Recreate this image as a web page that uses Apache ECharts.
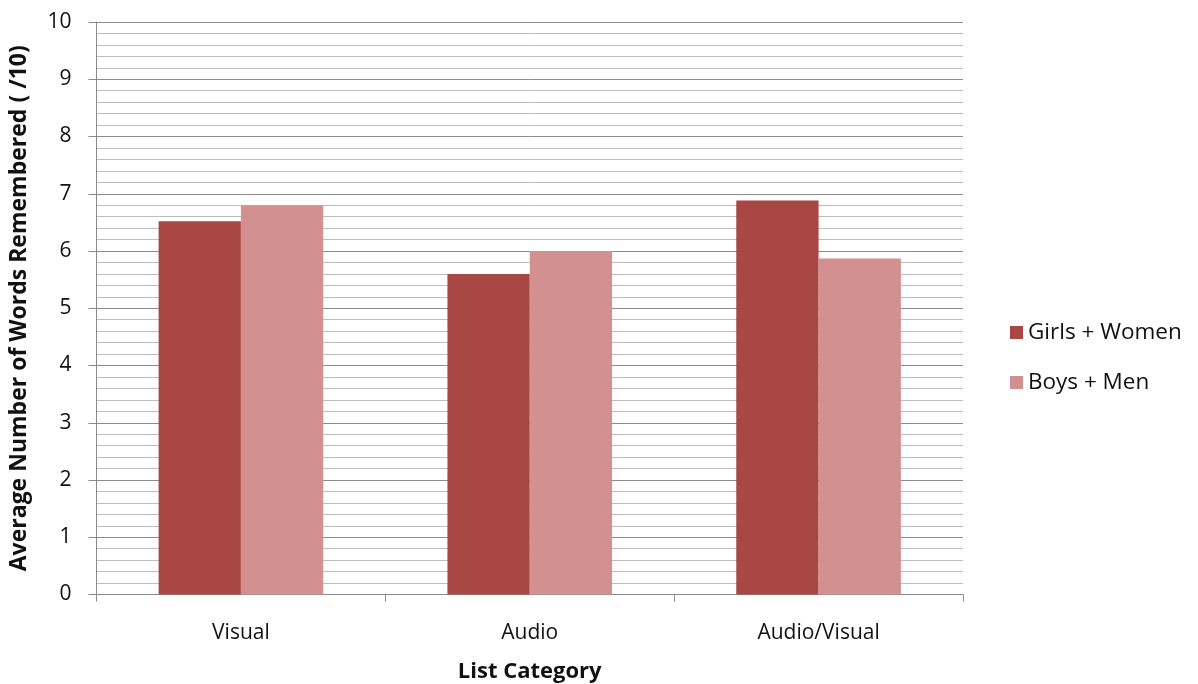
<!DOCTYPE html>
<html>
<head>
<meta charset="utf-8">
<script src="https://cdn.jsdelivr.net/npm/echarts@6/dist/echarts.min.js"></script>
<style>
  html, body { margin: 0; padding: 0; background: #fff; }
  #chart { width: 1198px; height: 684px; }
</style>
</head>
<body>
<div id="chart"></div>
<script>
// Word recall by list category
const categories = ['Visual', 'Audio', 'Audio/Visual'];
const girlsWomen = [6.52, 5.60, 6.88];
const boysMen = [6.80, 6.00, 5.87];
const seriesNames = ['Girls + Women', 'Boys + Men'];
const yTicks = { min: 0, max: 10, interval: 1 };

const FONT = '"Open Sans", sans-serif';

const chart = echarts.init(document.getElementById('chart'));
chart.setOption({
  animation: false,
  textStyle: { fontFamily: FONT },
  grid: {
    left: 96.5, right: 235, top: 22, bottom: 89.5,
    containLabel: false,
    outerBoundsMode: 'none'
  },
  legend: {
    orient: 'vertical',
    left: 1005,
    top: 316,
    itemWidth: 13,
    itemHeight: 13,
    itemGap: 27,
    icon: 'rect',
    textStyle: { fontSize: 22.5, color: '#111', fontFamily: FONT, padding: [0, 0, 0, 0] },
    data: seriesNames
  },
  xAxis: {
    type: 'category',
    data: categories,
    axisLine: { show: true, lineStyle: { color: '#8a8a8a', width: 1 } },
    axisTick: { show: true, length: 7, lineStyle: { color: '#8a8a8a' } },
    axisLabel: { fontSize: 21, color: '#111', margin: 28 },
    name: 'List Category',
    nameLocation: 'middle',
    nameGap: 66,
    nameTextStyle: { fontSize: 22, fontWeight: 'bold', color: '#111' }
  },
  yAxis: {
    type: 'value',
    min: yTicks.min,
    max: yTicks.max,
    interval: yTicks.interval,
    axisLine: { show: true, lineStyle: { color: '#8a8a8a', width: 1 } },
    axisTick: { show: true, length: 8, lineStyle: { color: '#8a8a8a' } },
    axisLabel: { fontSize: 21, color: '#111', margin: 25 },
    splitLine: { show: true, lineStyle: { color: '#8c8c8c', width: 1 } },
    minorTick: { show: false, splitNumber: 5 },
    minorSplitLine: { show: true, lineStyle: { color: '#bdbdbd', width: 1 } },
    name: 'Average Number of Words Remembered ( /10)',
    nameLocation: 'middle',
    nameGap: 66,
    nameTextStyle: { fontSize: 23, fontWeight: 'bold', color: '#111' }
  },
  series: [
    {
      name: seriesNames[0],
      type: 'bar',
      data: girlsWomen,
      barGap: '0%',
      barCategoryGap: '43%',
      itemStyle: { color: '#a94744' }
    },
    {
      name: seriesNames[1],
      type: 'bar',
      data: boysMen,
      barGap: '0%',
      barCategoryGap: '43%',
      itemStyle: { color: '#d29190' }
    }
  ]
});
</script>
</body>
</html>
